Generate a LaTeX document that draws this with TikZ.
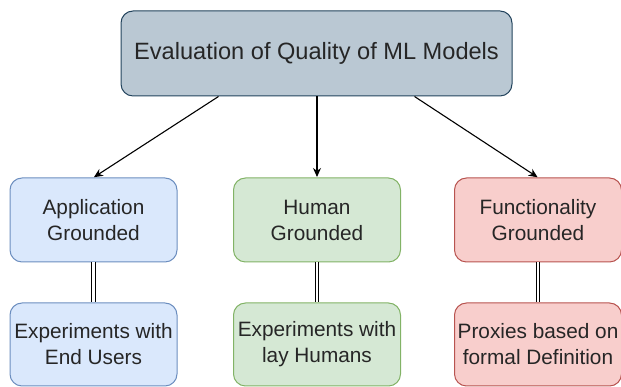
\documentclass[tikz,border=0pt]{standalone}
\usepackage{fontspec}
\setmainfont{Liberation Sans}
\usepackage{tikz}
\usetikzlibrary{calc,arrows.meta}
\definecolor{topfill}{HTML}{BAC8D3}
\definecolor{topdraw}{HTML}{23445D}
\definecolor{bluefill}{HTML}{DAE8FC}
\definecolor{bluedraw}{HTML}{6C8EBF}
\definecolor{greenfill}{HTML}{D5E8D4}
\definecolor{greendraw}{HTML}{82B366}
\definecolor{redfill}{HTML}{F8CECC}
\definecolor{reddraw}{HTML}{B85450}
\definecolor{evaltext}{HTML}{262626}
\tikzset{
  evalbox/.style={
    draw, line width=1pt, rounded corners=12pt,
    minimum width=167pt, minimum height=84pt, align=center,
    inner sep=2pt, text=evaltext,
    font=\fontsize{20.8}{26}\selectfont
  },
  evalarrow/.style={
    ->, line width=1.1pt, >={Stealth[length=9pt,width=8pt]}, shorten >=0.5pt
  },
  evallink/.style={
    double, double distance=2.6pt, line width=0.9pt
  }
}

\begin{document}
\begin{tikzpicture}[x=1pt, y=1pt]
  \useasboundingbox (0,0) rectangle (621,387);

  % Root node
  \node[evalbox, fill=topfill, draw=topdraw, minimum width=391pt, minimum height=85pt,
        font=\fontsize{23.6}{28}\selectfont] (root) at (316.5, 333.5)
      {Evaluation of Quality of ML Models};

  % Grounding kinds
  \node[evalbox, fill=bluefill, draw=bluedraw]   (app) at (93.5, 167) {Application\\Grounded};
  \node[evalbox, fill=greenfill, draw=greendraw] (hum) at (317, 167)  {Human\\Grounded};
  \node[evalbox, fill=redfill, draw=reddraw]     (fun) at (538, 167)  {Functionality\\Grounded};

  % Evaluation means
  \node[evalbox, fill=bluefill, draw=bluedraw, minimum height=83pt]   (appx) at (93.5, 42.5)
      {Experiments with\\End Users};
  \node[evalbox, fill=greenfill, draw=greendraw, minimum height=83pt] (humx) at (317, 42.5)
      {Experiments with\\lay Humans};
  \node[evalbox, fill=redfill, draw=reddraw, minimum height=83pt]     (funx) at (538, 42.5)
      {Proxies based on\\formal Definition};

  % Arrows
  \draw[evalarrow] ($(root.south west)!0.25!(root.south east)$) -- (app.north);
  \draw[evalarrow] (root.south -| hum.north) -- (hum.north);
  \draw[evalarrow] ($(root.south west)!0.75!(root.south east)$) -- (fun.north);

  % Links
  \draw[evallink] (app) -- (appx);
  \draw[evallink] (hum) -- (humx);
  \draw[evallink] (fun) -- (funx);
\end{tikzpicture}
\end{document}
